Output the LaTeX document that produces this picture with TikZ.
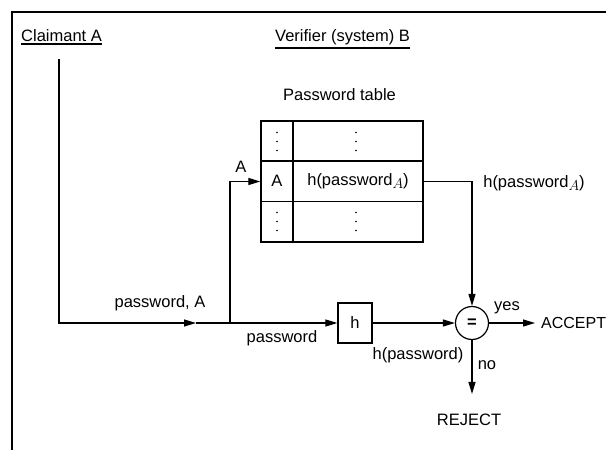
\documentclass[tikz,border=0pt]{standalone}
\usepackage{fontspec}
\setmainfont{Liberation Sans}
\usetikzlibrary{arrows.meta}
\newcommand\subA{\raisebox{-3.5pt}{\fontsize{14}{14}\selectfont$A$}}
\begin{document}
\begin{tikzpicture}[x=1pt,y=-1pt,
  every node/.style={font=\fontsize{16.5}{19}\selectfont, inner sep=0pt},
  conn/.style={line width=1.2pt, -{Triangle[length=12pt,width=7pt]}},
  plainline/.style={line width=1.2pt},
  tbl/.style={line width=1.3pt},
  ul/.style={line width=1.8pt},
  framestyle/.style={line width=2pt}]
\useasboundingbox (0,0) rectangle (606,450);
\fill[white] (0,0) rectangle (606,450);
% frame
\draw[framestyle] (12,470) -- (12,12) -- (626,12);
% headings
\node[anchor=base west] (claim) at (21,41) {Claimant A};
\draw[ul] ([yshift=-3pt]claim.base west) -- ([yshift=-3pt]claim.base east);
\node[anchor=base west] (verif) at (275,41) {Verifier (system) B};
\draw[ul] ([yshift=-7pt]verif.base west) -- ([yshift=-7pt]verif.base east);
% password table
\node (ptlabel) at (339.5,95) {Password table};
\node[draw, tbl, minimum width=162pt, minimum height=121pt] (table) at (342,181.5) {};
\draw[tbl] (293,121) -- (293,242);
\draw[tbl] (261,161) -- (423,161);
\draw[tbl] (261,201.5) -- (423,201.5);
\foreach \cx/\cy in {277/141.5, 356/141.5, 277/221.5, 356/221.5}
  \foreach \dy in {-9,0,9}
    \fill (\cx,\cy+\dy) circle (0.95pt);
\node (rowA) at (277,181) {A};
\node (rowH) at (358,181) {h(password\subA)};
% nodes of the flow
\coordinate (start) at (59,59);
\coordinate (tipA) at (196,323);
\coordinate (junc) at (230,323);
\node[draw, tbl, minimum width=34pt, minimum height=40pt] (hbox) at (355,323) {h};
\node[draw, circle, plainline, minimum size=33pt] (eq) at (472,323) {\textbf{=}};
\node[anchor=west, font=\fontsize{16}{19}\selectfont] (accept) at (541,323) {ACCEPT};
\node (reject) at (469,420) {REJECT};
% labels
\node (lblPA) at (160,303) {password, A};
\node (lblP) at (282,338) {password};
\node (lblA) at (241,167) {A};
\node (lblHP) at (418,355) {h(password)};
\node (lblHPA) at (534,183) {h(password\subA)};
\node (lblyes) at (507,308) {yes};
\node (lblno) at (487,365) {no};
% connectors
\draw[conn] (start) |- (tipA);
\draw[conn] (tipA) -- (hbox.west);
\draw[conn] (junc) |- (table.west);
\draw[conn] (hbox.east) -- (eq.west);
\draw[conn] (table.east) -| (eq.north);
\draw[conn] (eq.east) -- ([xshift=-6pt]accept.west);
\draw[conn] (eq.south) -- ([yshift=20pt]eq.south |- reject.north);
\end{tikzpicture}
\end{document}
